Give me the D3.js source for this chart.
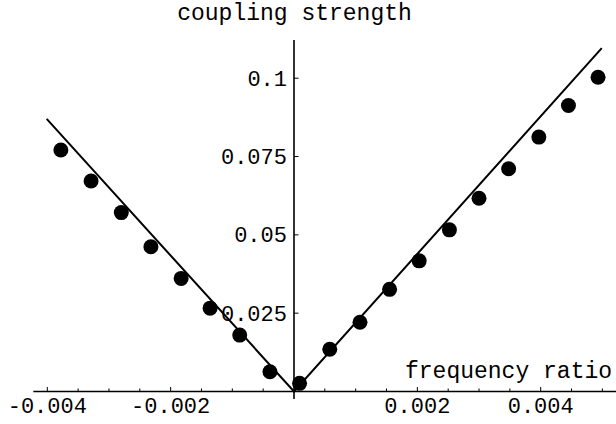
<!DOCTYPE html>
<html>
<head>
<meta charset="utf-8">
<script src="https://cdn.jsdelivr.net/npm/d3@7"></script>
<style>
  body { margin: 0; background: #fff; }
  text { font-family: "Liberation Mono", "Courier New", monospace; fill: #000; }
</style>
</head>
<body>
<svg id="chart" width="616" height="424"></svg>
<script>
// measured points (frequency ratio vs coupling strength)
const freqRatio = [-0.00378, -0.00329, -0.00280, -0.00232, -0.00183, -0.00136, -0.00088, -0.00039,
  0.00009, 0.00058, 0.00107, 0.00155, 0.00203, 0.00252, 0.00300, 0.00348, 0.00397, 0.00445, 0.00493];
const coupling = [0.0771, 0.0672, 0.0571, 0.0462, 0.0361, 0.0266, 0.0180, 0.0063,
  0.0026, 0.0135, 0.0221, 0.0326, 0.0417, 0.0516, 0.0617, 0.0711, 0.0812, 0.0913, 0.1003];

// fitted V-shaped line
const fitX = [-0.00401, 0, 0.00499];
const fitY = [0.0870, 0, 0.1096];

// ticks
const xTickLabels = [-0.004, -0.002, 0.002, 0.004];
const xMinorTicks = [-0.004, -0.0035, -0.003, -0.0025, -0.002, -0.0015, -0.001, -0.0005,
  0.0005, 0.001, 0.0015, 0.002, 0.0025, 0.003, 0.0035, 0.004, 0.0045, 0.005];
const yTickLabels = [0.025, 0.05, 0.075, 0.1];

const svg = d3.select("#chart");

// scales
const xScale = d3.scaleLinear().domain([-0.004227, 0.005221]).range([33.3, 616]);
const yScale = d3.scaleLinear().domain([-0.0024, 0.1122]).range([399, 40]);

const x0 = xScale(0);
const y0 = yScale(0);

// axes
svg.append("line")
  .attr("x1", xScale.range()[0]).attr("x2", xScale.range()[1])
  .attr("y1", y0).attr("y2", y0)
  .attr("stroke", "#000").attr("stroke-width", 1.6);

svg.append("line")
  .attr("x1", x0).attr("x2", x0)
  .attr("y1", yScale.range()[0]).attr("y2", yScale.range()[1])
  .attr("stroke", "#000").attr("stroke-width", 1.6);

// x ticks (pointing up)
svg.selectAll(".xtick")
  .data(xMinorTicks)
  .join("line")
  .attr("class", "xtick")
  .attr("x1", d => xScale(d)).attr("x2", d => xScale(d))
  .attr("y1", y0)
  .attr("y2", d => xTickLabels.some(t => Math.abs(t - d) < 1e-9) ? y0 - 4.5 : y0 - 3)
  .attr("stroke", "#000").attr("stroke-width", 1);

svg.selectAll(".xlabel")
  .data(xTickLabels)
  .join("text")
  .attr("class", "xlabel")
  .attr("x", d => xScale(d))
  .attr("y", 413)
  .attr("text-anchor", "middle")
  .attr("font-size", 22)
  .text(d => d3.format(".3f")(d).replace("−", "-"));

// y ticks (pointing right)
svg.selectAll(".ytick")
  .data(yTickLabels)
  .join("line")
  .attr("class", "ytick")
  .attr("x1", x0).attr("x2", x0 + 4.5)
  .attr("y1", d => yScale(d)).attr("y2", d => yScale(d))
  .attr("stroke", "#000").attr("stroke-width", 1);

svg.selectAll(".ylabel")
  .data(yTickLabels)
  .join("text")
  .attr("class", "ylabel")
  .attr("x", x0 - 7)
  .attr("y", d => yScale(d) + 7.5)
  .attr("text-anchor", "end")
  .attr("font-size", 22)
  .text(d => String(d));

// axis labels
svg.append("text")
  .attr("x", x0 + 0.5).attr("y", 19.5)
  .attr("text-anchor", "middle")
  .attr("font-size", 23)
  .text("coupling strength");

svg.append("text")
  .attr("x", 405).attr("y", 378)
  .attr("font-size", 23)
  .text("frequency ratio");

// fit line
const fitData = fitX.map((d, i) => [d, fitY[i]]);
svg.append("path")
  .datum(fitData)
  .attr("fill", "none")
  .attr("stroke", "#000")
  .attr("stroke-width", 2)
  .attr("d", d3.line().x(d => xScale(d[0])).y(d => yScale(d[1])));

// points
svg.selectAll(".pt")
  .data(freqRatio.map((d, i) => [d, coupling[i]]))
  .join("circle")
  .attr("class", "pt")
  .attr("cx", d => xScale(d[0]))
  .attr("cy", d => yScale(d[1]))
  .attr("r", 7.5)
  .attr("fill", "#000");
</script>
</body>
</html>
